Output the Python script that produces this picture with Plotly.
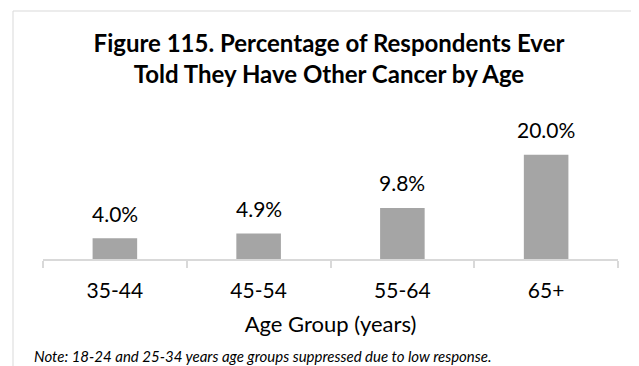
import plotly.graph_objects as go

categories = ["35-44", "45-54", "55-64", "65+"]
values = [4.0, 4.9, 9.8, 20.0]
labels = ["4.0%", "4.9%", "9.8%", "20.0%"]

title_text = "Figure 115. Percentage of Respondents Ever<br>Told They Have Other Cancer by Age"
x_title = "Age Group (years)"
note_text = "Note: 18-24 and 25-34 years age groups suppressed due to low response."

FONT = "Lato"
W, H = 639, 366
L, R, T, B = 35, 29, 126, 115

fig = go.Figure()
fig.add_trace(go.Bar(
    x=categories, y=values,
    marker=dict(color="#A5A5A5", line=dict(width=0)),
    hoverinfo="skip",
))

for c, v, t in zip(categories, values, labels):
    fig.add_annotation(x=c, y=v, text=t, showarrow=False, xref="x", yref="y",
                       yanchor="middle", yshift=25,
                       font=dict(family=FONT, size=21, color="#000000"))

plot_w = W - L - R
plot_h = H - T - B

fig.add_annotation(text=note_text, xref="paper", yref="paper",
                   x=(24 - L) / plot_w, y=(H - B - 348) / plot_h,
                   xanchor="left", yanchor="middle", showarrow=False,
                   font=dict(family=FONT, size=15, color="#000000", style="italic"))

fig.add_shape(type="rect", xref="paper", yref="paper",
              x0=(5 - L) / plot_w, x1=(637 - L) / plot_w,
              y0=(H - B - 372) / plot_h, y1=(H - B - 3) / plot_h,
              line=dict(color="#D9D9D9", width=1), fillcolor="rgba(0,0,0,0)",
              layer="below")

fig.update_layout(
    width=W, height=H,
    margin=dict(l=L, r=R, t=T, b=B, autoexpand=False),
    paper_bgcolor="#FFFFFF", plot_bgcolor="#FFFFFF",
    showlegend=False,
    bargap=0.69,
    title=dict(text="<b>" + title_text + "</b>", x=321 / W, xanchor="center",
               y=1 - 44 / H, yanchor="middle", yref="container",
               font=dict(family=FONT, size=24, color="#000000")),
    xaxis=dict(type="category", showline=True, linecolor="#D9D9D9", linewidth=1.5,
               ticks="outside", tickson="boundaries", ticklen=7, tickwidth=1.5,
               tickcolor="#D9D9D9", ticklabelstandoff=12,
               tickfont=dict(family=FONT, size=21, color="#000000"),
               title=dict(text=x_title, standoff=16,
                          font=dict(family=FONT, size=22, color="#000000")),
               showgrid=False, zeroline=False, fixedrange=True),
    yaxis=dict(range=[0, 24], visible=False, showgrid=False, zeroline=False,
               fixedrange=True),
)

fig.write_html("out.html")
